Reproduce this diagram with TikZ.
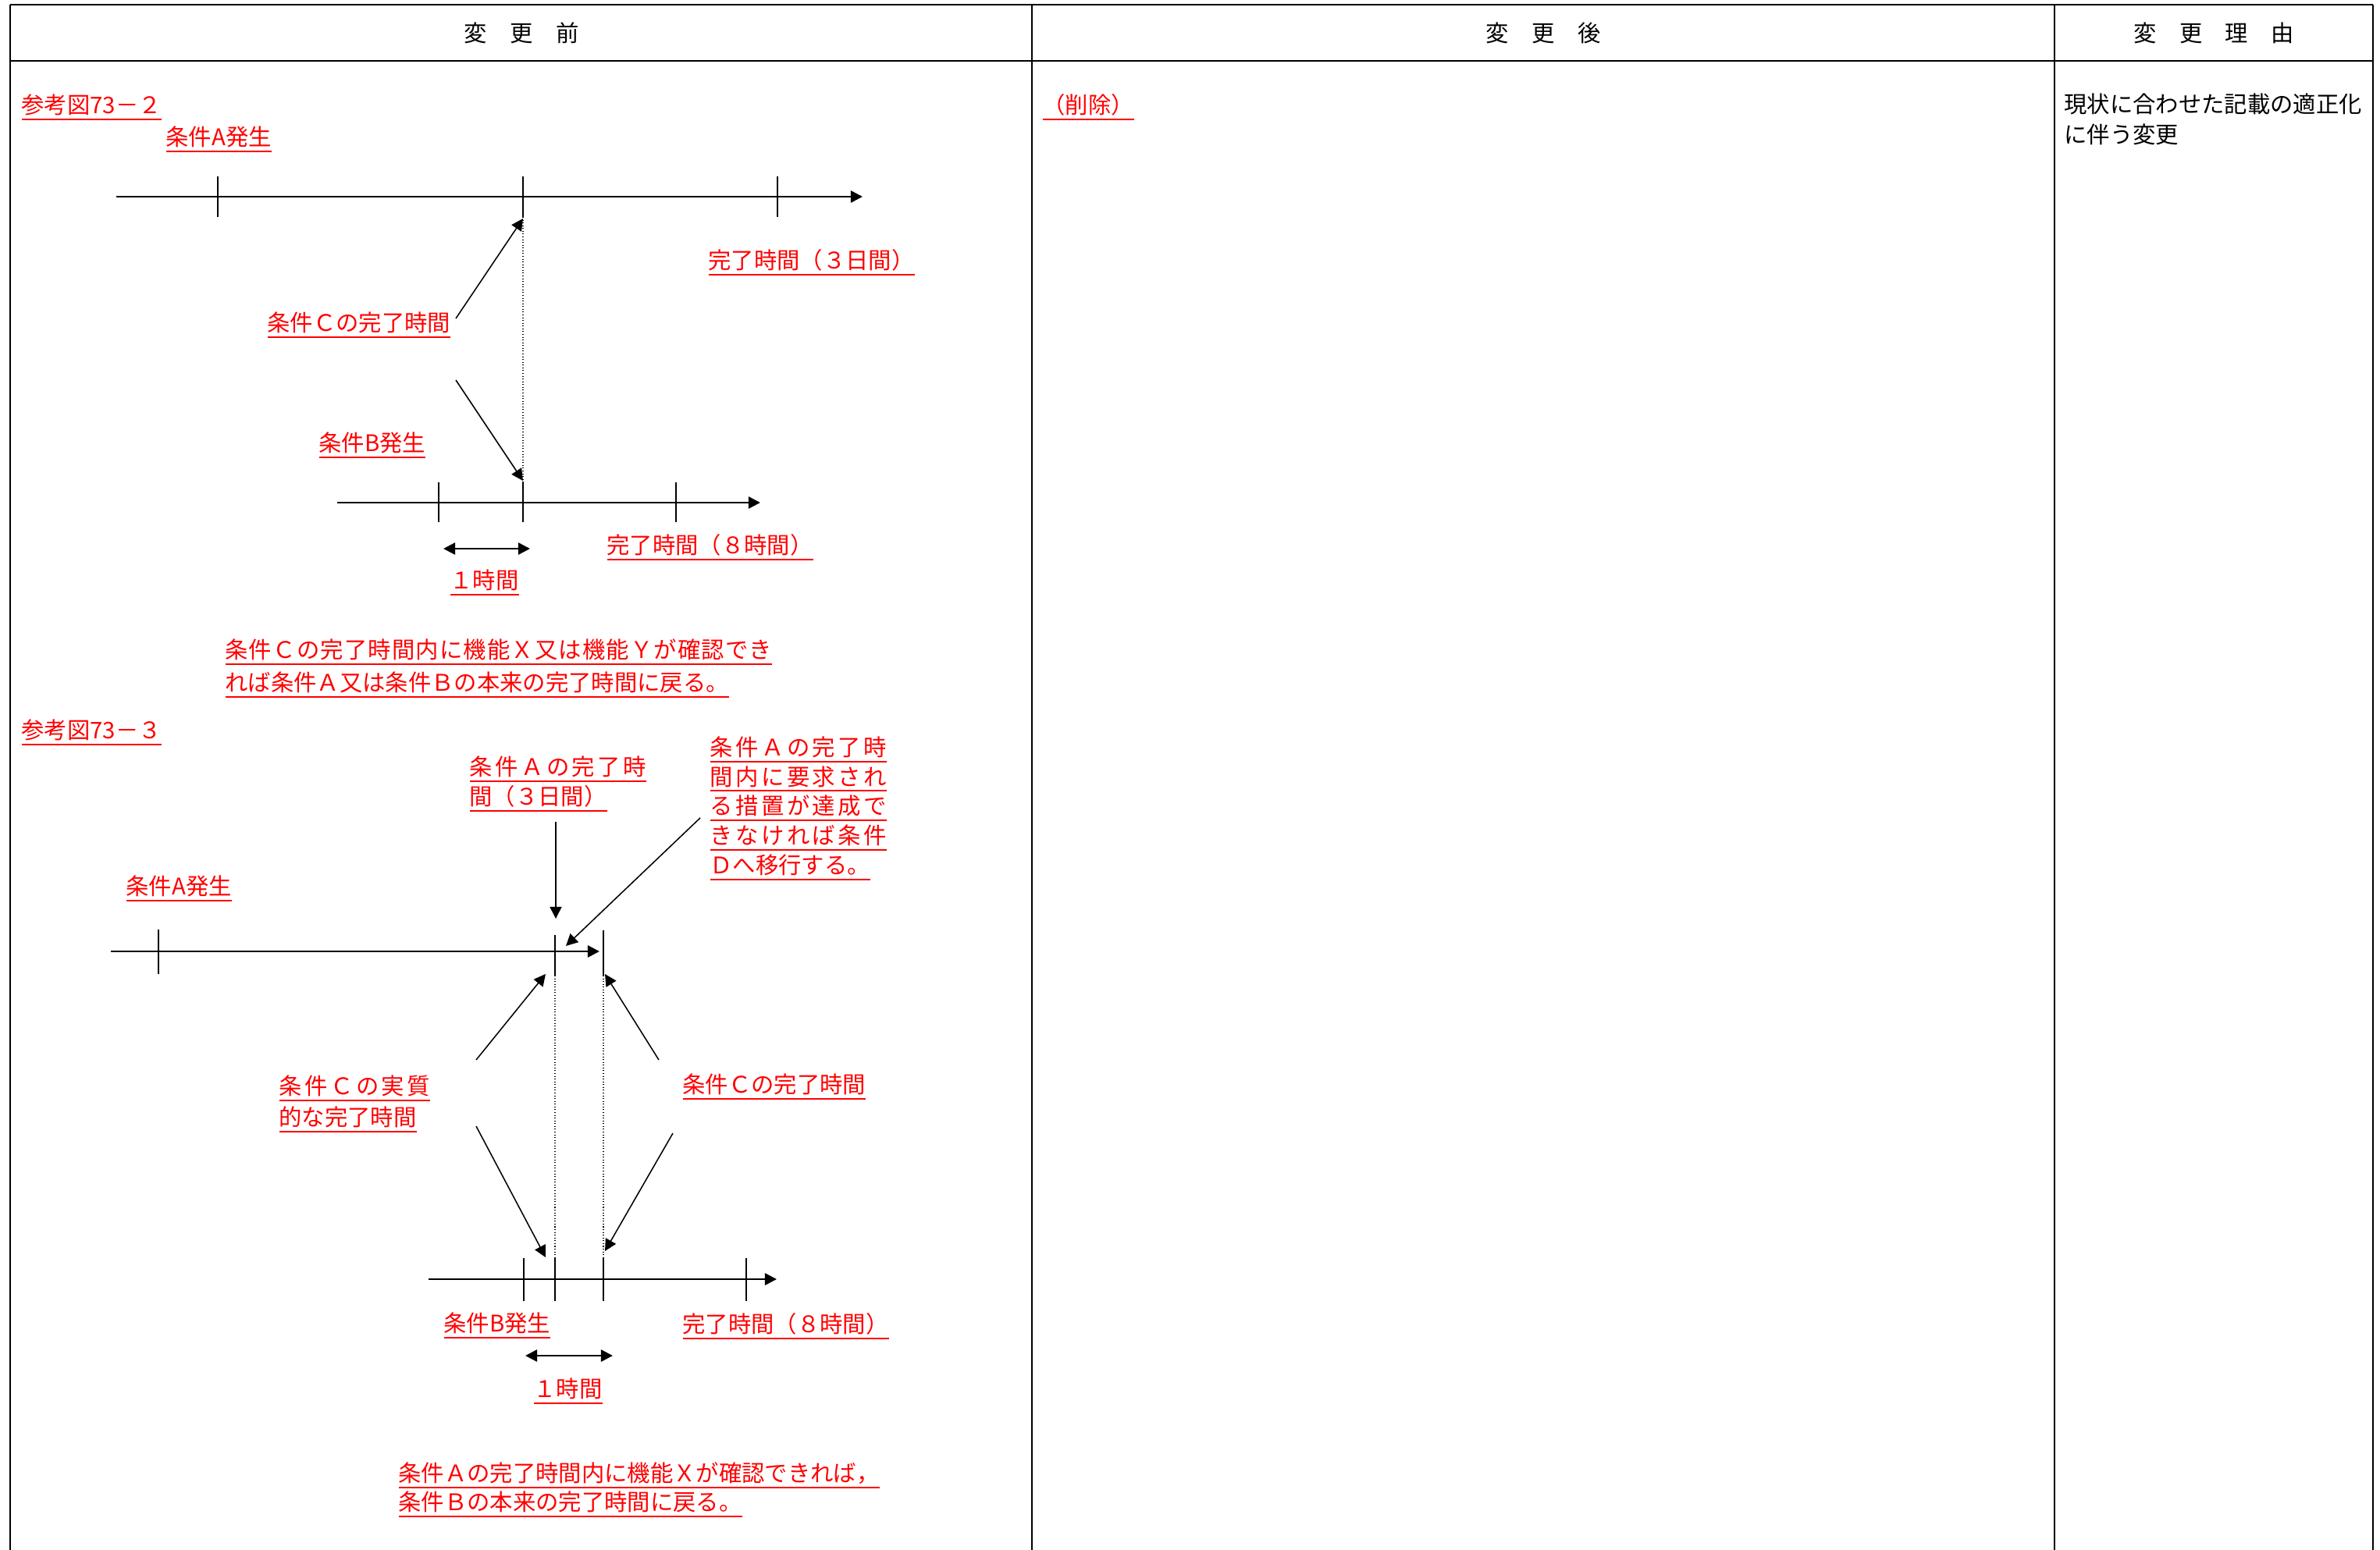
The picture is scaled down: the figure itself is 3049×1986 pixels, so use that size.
\documentclass[tikz,border=0pt]{standalone}
\usepackage{fontspec}
\newfontfamily\jpfont{Noto Sans CJK JP}
\newfontfamily\jpwide[LetterSpace=12]{Noto Sans CJK JP}
\newfontfamily\jpslight[LetterSpace=4]{Noto Sans CJK JP}
\usetikzlibrary{arrows.meta}
\newcommand{\uln}[1]{\vtop{\hbox{\vrule width0pt height0.88em depth0.12em#1}\kern1pt\hrule height0.8pt}}
\begin{document}
\begin{tikzpicture}[x=0.13775mm,y=-0.13775mm,
  every node/.style={inner sep=0pt,font=\jpfont\fontsize{11.5}{14.8}\selectfont},
  redlabel/.style={text=red,anchor=south west,align=left,yshift=-2pt},
  headrule/.style={line width=0.8pt},
  cellrule/.style={line width=0.5pt},
  timeline/.style={line width=1pt,-{Triangle[length=5.9pt,width=5.9pt]}},
  tickmark/.style={line width=0.5pt},
  guide/.style={line width=0.4pt,densely dotted},
  pointer/.style={line width=0.6pt,-{Triangle[length=5.9pt,width=5.9pt]}},
  hourspan/.style={line width=1pt,{Triangle[length=5.9pt,width=5.9pt]}-{Triangle[length=5.9pt,width=5.9pt]}}]
 \useasboundingbox (0,0) rectangle (3049,1986);
 \draw[headrule] (13,6) -- (3040,6) (13,78) -- (3040,78);
 \foreach \x in {13,1322,2632,3040}{
 	\draw[cellrule] (\x,6) -- (\x,1986);}
 \node (before) at (668,42) {変　更　前};
 \node (after) at (1977,42) {変　更　後};
 \node (reason) at (2836,42) {変　更　理　由};
 \node[redlabel] (deleted) at (1335,149) {\uln{（削除）}};
 \node[anchor=south west,align=left,font=\jpfont\fontsize{11.5}{15}\selectfont] (why) at (2644,186) {現状に合わせた記載の適正化\\に伴う変更};

 \node[redlabel] (fig2) at (27,149) {\uln{参考図73－２}};
 \node[redlabel] (a2) at (212,190) {\uln{条件A発生}};
 \node[redlabel] (a2end) at (907,348) {\uln{完了時間（３日間）}};
 \node[redlabel] (c2) at (342,428) {\uln{条件Ｃの完了時間}};
 \node[redlabel] (b2) at (408,582) {\uln{条件B発生}};
 \node[redlabel] (b2end) at (777,713) {\uln{完了時間（８時間）}};
 \node[redlabel] (h2) at (576,758) {\uln{１時間}};
 \node[redlabel,font=\jpfont\fontsize{11.5}{16.4}\selectfont] (note2) at (288,889) {\uln{\jpslight 条件Ｃの完了時間内に機能Ｘ又は機能Ｙが確認でき}\\\uln{れば条件Ａ又は条件Ｂの本来の完了時間に戻る。}};
 \coordinate (p2s) at (149,252); \coordinate (p2e) at (1105,252);
 \coordinate (q2s) at (432,644); \coordinate (q2e) at (974,644);
 \draw[timeline] (p2s) -- (p2e);
 \draw[timeline] (q2s) -- (q2e);
 \foreach \x in {279,670,996}{
 	\draw[tickmark] (\x,226) -- (\x,278);}
 \foreach \x in {562,670,866}{
 	\draw[tickmark] (\x,618) -- (\x,669);}
 \draw[guide] (670,278) -- (670,618);
 \coordinate (c2up) at (584,408); \coordinate (t2top) at (670,280);
 \coordinate (c2dn) at (584,487); \coordinate (t2bot) at (670,616);
 \coordinate (h2l) at (568,703); \coordinate (h2r) at (679,703);
 \foreach \s/\t in {c2up/t2top,c2dn/t2bot}{
 	\draw[pointer] (\s) -- (\t);}
 \draw[hourspan] (h2l) -- (h2r);

 \node[redlabel] (fig3) at (27,950) {\uln{参考図73－３}};
 \node[redlabel] (a3end) at (601,1035) {\uln{\jpwide 条件Ａの完了時}\\\uln{間（３日間）}};
 \node[redlabel] (d3) at (909,1123) {\uln{\jpwide 条件Ａの完了時}\\\uln{\jpwide 間内に要求され}\\\uln{\jpwide る措置が達成で}\\\uln{\jpwide きなければ条件}\\\uln{Ｄへ移行する。}};
 \node[redlabel] (a3) at (161,1150) {\uln{条件A発生}};
 \node[redlabel,font=\jpfont\fontsize{11.5}{15.6}\selectfont] (c3l) at (357,1446) {\uln{\jpwide 条件Ｃの実質}\\\uln{的な完了時間}};
 \node[redlabel] (c3r) at (874,1404) {\uln{条件Ｃの完了時間}};
 \node[redlabel] (b3) at (568,1710) {\uln{条件B発生}};
 \node[redlabel] (b3end) at (874,1711) {\uln{完了時間（８時間）}};
 \node[redlabel] (h3) at (683,1794) {\uln{１時間}};
 \node[redlabel,font=\jpfont\fontsize{11.5}{14.4}\selectfont] (note3) at (510,1939) {\uln{条件Ａの完了時間内に機能Ｘが確認できれば，}\\\uln{条件Ｂの本来の完了時間に戻る。}};
 \coordinate (p3s) at (142,1219); \coordinate (p3e) at (768,1219);
 \coordinate (q3s) at (549,1639); \coordinate (q3e) at (995,1639);
 \draw[timeline] (p3s) -- (p3e);
 \draw[timeline] (q3s) -- (q3e);
 \draw[tickmark] (203,1191) -- (203,1248);
 \draw[tickmark] (711,1198) -- (711,1250);
 \draw[tickmark] (773,1192) -- (773,1250);
 \foreach \x in {671,711,773,956}{
 	\draw[tickmark] (\x,1612) -- (\x,1667);}
 \foreach \x in {711,773}{
 	\draw[guide] (\x,1250) -- (\x,1612);}
 \coordinate (a3top) at (712,1053); \coordinate (a3tip) at (712,1177);
 \coordinate (d3top) at (897,1048); \coordinate (d3tip) at (725,1212);
 \coordinate (c3lu) at (610,1358); \coordinate (c3lut) at (699,1248);
 \coordinate (c3ru) at (844,1358); \coordinate (c3rut) at (775,1248);
 \coordinate (c3ld) at (610,1443); \coordinate (c3ldt) at (699,1611);
 \coordinate (c3rd) at (862,1452); \coordinate (c3rdt) at (775,1603);
 \coordinate (h3l) at (673,1737); \coordinate (h3r) at (785,1737);
 \foreach \s/\t in {a3top/a3tip,d3top/d3tip,c3lu/c3lut,c3ru/c3rut,c3ld/c3ldt,c3rd/c3rdt}{
 	\draw[pointer] (\s) -- (\t);}
 \draw[hourspan] (h3l) -- (h3r);
\end{tikzpicture}
\end{document}
